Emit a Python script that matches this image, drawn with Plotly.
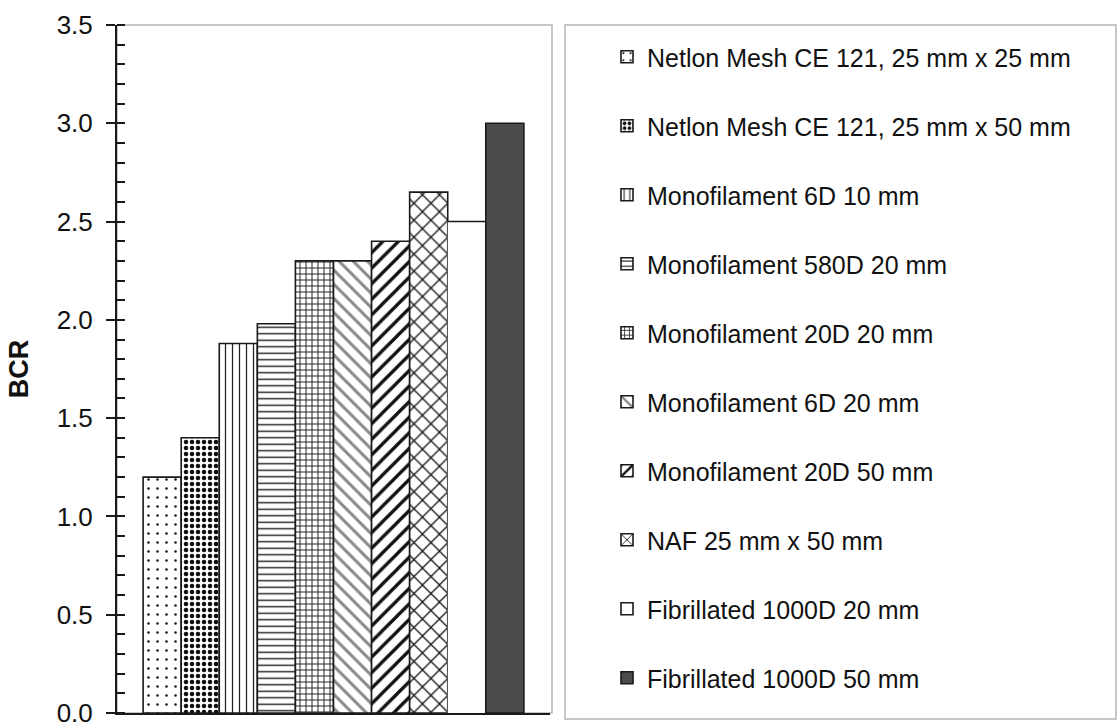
import plotly.graph_objects as go

# Bond capacity ratio for each reinforcement type
labels = [
    "Netlon Mesh CE 121, 25 mm x 25 mm",
    "Netlon Mesh CE 121, 25 mm x 50 mm",
    "Monofilament 6D 10 mm",
    "Monofilament 580D 20 mm",
    "Monofilament 20D 20 mm",
    "Monofilament 6D 20 mm",
    "Monofilament 20D 50 mm",
    "NAF 25 mm x 50 mm",
    "Fibrillated 1000D 20 mm",
    "Fibrillated 1000D 50 mm",
]
bcr = [1.2, 1.4, 1.88, 1.98, 2.3, 2.3, 2.4, 2.65, 2.5, 3.0]
y_ticks = [0.0, 0.5, 1.0, 1.5, 2.0, 2.5, 3.0, 3.5]

# fill pattern per series: (shape, size, solidity, fg colour, bg colour)
styles = [
    (".", 9, 0.07, "#222", "white"),
    (".", 6, 0.45, "#111", "white"),
    ("|", 7, 0.18, "#222", "white"),
    ("-", 6.5, 0.22, "#222", "white"),
    ("+", 6, 0.3, "#222", "white"),
    ("\\", 10, 0.3, "#8a8a8a", "white"),
    ("/", 11, 0.3, "#111", "white"),
    ("x", 12, 0.2, "#111", "white"),
    ("", 8, 0.2, "#111", "white"),
    ("", 8, 0.2, "#111", "#4b4b4b"),
]

fig = go.Figure()
open_bar = 8  # drawn with its top edge only
for i, (name, v, st) in enumerate(zip(labels, bcr, styles)):
    shape, size, sol, fg, bg = st
    pattern = dict(shape=shape, size=size, solidity=sol, fgcolor=fg, bgcolor=bg, fillmode="replace") if shape else None
    marker = dict(color=bg, line=dict(color="#1a1a1a", width=1.6))
    if pattern:
        marker["pattern"] = pattern
    if i == open_bar:
        fig.add_trace(go.Bar(x=[i], y=[v], width=[1], name=name, legendgroup=name,
                             marker=dict(color="white", line=dict(color="white", width=0)),
                             showlegend=False, hoverinfo="skip"))
        fig.add_trace(go.Scatter(x=[i - 0.5, i + 0.5], y=[v, v], mode="lines",
                                 line=dict(color="#1a1a1a", width=1.6),
                                 showlegend=False, legendgroup=name, hoverinfo="skip"))
        fig.add_trace(go.Bar(x=[None], y=[None], name=name, legendgroup=name,
                             marker=marker))
    else:
        fig.add_trace(go.Bar(x=[i], y=[v], width=[1], name=name, legendgroup=name,
                             marker=marker))

W, H = 1118, 724
L, R, T, B = 117, 568, 25, 11
pw, ph = W - L - R, H - T - B

fig.update_layout(
    width=W, height=H,
    margin=dict(l=L, r=R, t=T, b=B),
    paper_bgcolor="white", plot_bgcolor="white",
    barmode="overlay",
    font=dict(family="Liberation Sans, Arial, sans-serif", color="#111"),
    showlegend=True,
    legend=dict(
        x=(607 - L) / pw, xanchor="left",
        y=1 - 9 / ph, yanchor="top",
        font=dict(size=25, color="#111"),
        tracegroupgap=33.5,
        bgcolor="rgba(0,0,0,0)", borderwidth=0,
        traceorder="grouped",
    ),
    xaxis=dict(
        range=[-0.5 - 26 / 37.9, 9.5 + 26 / 37.9],
        showticklabels=False, showgrid=False, zeroline=False,
        showline=True, linecolor="#1a1a1a", linewidth=2,
        ticks="", fixedrange=True, automargin=False,
    ),
    yaxis=dict(
        range=[0, 3.5],
        automargin=False,
        tickvals=y_ticks, ticktext=[f"{t:.1f}" for t in y_ticks],
        tickfont=dict(size=26, color="#111"),
        ticklabeloverflow="allow",
        ticks="outside", ticklen=9, tickwidth=2, tickcolor="#1a1a1a",
        ticklabelstandoff=8,
        minor=dict(dtick=0.1, ticks="inside", ticklen=8, tickwidth=1.5, tickcolor="#1a1a1a", showgrid=False),
        showgrid=False, zeroline=False,
        showline=True, linecolor="#1a1a1a", linewidth=2,
        title=dict(text="<b>BCR</b>", font=dict(size=27, color="#111"), standoff=20),
    ),
    shapes=[
        # light frame around the plot area
        dict(type="rect", xref="paper", yref="paper", x0=0, x1=(552 - L) / pw, y0=0, y1=1,
             line=dict(color="#b5b5b5", width=1.5), layer="below"),
        # legend frame
        dict(type="rect", xref="paper", yref="paper",
             x0=(565 - L) / pw, x1=(1116 - L) / pw, y0=-(719 - 713) / ph, y1=1,
             line=dict(color="#b5b5b5", width=1.5), layer="below"),
    ],
)

fig.write_html("out.html")
